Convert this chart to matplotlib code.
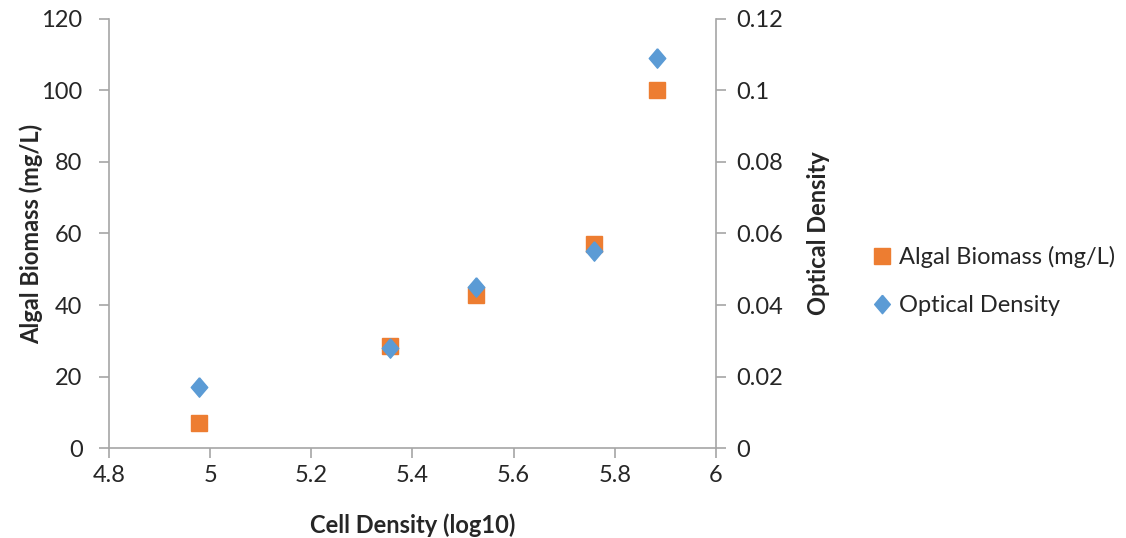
import matplotlib.pyplot as plt
from matplotlib.ticker import FuncFormatter

plt.rcParams['font.family'] = ['Lato', 'DejaVu Sans']

# values
cell_density = [4.977, 5.356, 5.526, 5.759, 5.883]
biomass = [7, 28.5, 42.8, 57.2, 100]
optical_density = [0.017, 0.028, 0.045, 0.055, 0.109]

orange = '#ED7D31'
blue = '#5B9BD5'
grey = '#A6A6A6'
text = '#262626'

# slightly tall diamond, like the Excel marker
diamond = [(0, 1), (0.85, 0), (0, -1), (-0.85, 0), (0, 1)]

fig = plt.figure(figsize=(11.26, 5.38), dpi=100)
ax = fig.add_axes([0.0968, 0.167, 0.539, 0.798])
ax2 = ax.twinx()

h1, = ax.plot(cell_density, biomass, 's', color=orange, markersize=12,
              label='Algal Biomass (mg/L)', zorder=3)
h2, = ax2.plot(cell_density, optical_density, marker=diamond, ls='none',
               color=blue, markersize=14, label='Optical Density', zorder=4)

ax.set_xlim(4.8, 6)
ax.set_ylim(0, 120)
ax2.set_ylim(0, 0.12)
ax.set_xticks([4.8, 5, 5.2, 5.4, 5.6, 5.8, 6])
ax.set_xticklabels(['4.8', '5', '5.2', '5.4', '5.6', '5.8', '6'])
ax.set_yticks(range(0, 121, 20))
ax2.set_yticks([0, 0.02, 0.04, 0.06, 0.08, 0.1, 0.12])
ax2.yaxis.set_major_formatter(FuncFormatter(lambda v, p: f'{v:g}'))

for a in (ax, ax2):
    for s in a.spines.values():
        s.set_visible(False)
    a.tick_params(colors=grey, labelcolor=text, labelsize=17,
                  length=7, width=1.2)
ax.spines['left'].set_visible(True)
ax.spines['bottom'].set_visible(True)
ax2.spines['right'].set_visible(True)
for s in (ax.spines['left'], ax.spines['bottom'], ax2.spines['right']):
    s.set_color(grey)
    s.set_linewidth(1.2)
ax.tick_params(axis='x', pad=5)
ax.tick_params(axis='y', pad=12)
ax2.tick_params(axis='y', pad=8)

ax.set_xlabel('Cell Density (log10)', fontsize=17, fontweight='bold',
              color=text, labelpad=20)
ax.set_ylabel('Algal Biomass (mg/L)', fontsize=17, fontweight='bold',
              color=text, labelpad=-1)
ax2.set_ylabel('Optical Density', fontsize=17, fontweight='bold',
               color=text, labelpad=17)

leg = fig.legend(handles=[h1, h2], loc='center left',
                 bbox_to_anchor=(0.755, 0.478), frameon=False, fontsize=17,
                 labelcolor=text, handletextpad=0.25, labelspacing=1.15,
                 handlelength=0.9, markerscale=0.95)

fig.savefig('out.png', dpi=100)
